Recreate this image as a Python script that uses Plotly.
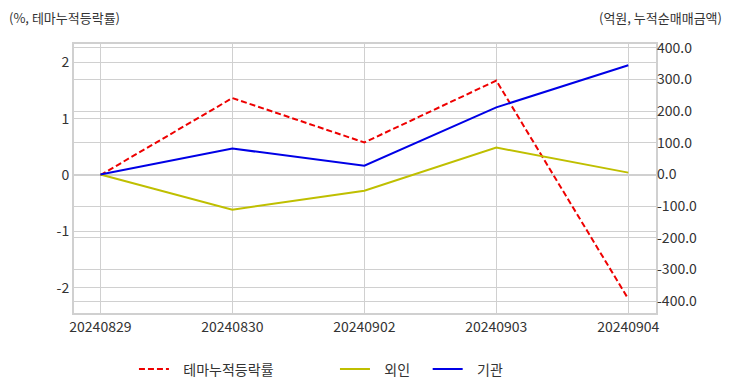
import plotly.graph_objects as go

dates = ["20240829", "20240830", "20240902", "20240903", "20240904"]
theme_rate = [0.0, 1.37, 0.58, 1.68, -2.20]
foreign = [0.0, -111.0, -51.0, 85.0, 6.0]
institution = [0.0, 82.0, 28.0, 212.0, 345.0]

left_ticks = [-2, -1, 0, 1, 2]
right_ticks = [-400, -300, -200, -100, 0, 100, 200, 300, 400]

FONT = "Noto Sans CJK KR"
NB = "\u00a0"

fig = go.Figure()
fig.add_trace(go.Scatter(x=dates, y=theme_rate, mode="lines", name=NB * 3 + "테마누적등락률" + NB * 18,
                         line=dict(color="#ee0000", width=2, dash="6px,3px"), yaxis="y"))
fig.add_trace(go.Scatter(x=dates, y=foreign, mode="lines", name=NB * 3 + "외인" + NB * 4,
                         line=dict(color="#bfbf00", width=2), yaxis="y2"))
fig.add_trace(go.Scatter(x=dates, y=institution, mode="lines", name=NB * 3 + "기관",
                         line=dict(color="#0000e6", width=2), yaxis="y2"))

grid = "#d0d0d0"
tfont = dict(size=14, color="#333333")
fig.update_layout(
    template="none",
    width=716, height=376,
    margin=dict(l=66, r=68, t=36, b=71, autoexpand=False),
    paper_bgcolor="white", plot_bgcolor="white",
    font=dict(family=FONT, size=13, color="#333333"),
    showlegend=True,
    legend=dict(orientation="h", x=0.103, xanchor="left", y=-0.21, yanchor="middle",
                font=dict(size=14, color="#333333"), bgcolor="rgba(0,0,0,0)"),
    xaxis=dict(type="category", range=[-0.2, 4.21], showgrid=True, gridcolor=grid, gridwidth=1,
               showline=True, linecolor=grid, linewidth=2, mirror=True, automargin=False,
               ticks="", tickfont=tfont, zeroline=False),
    yaxis=dict(range=[-2.45, 2.33], tickvals=left_ticks, ticktext=[str(v) for v in left_ticks],
               showgrid=True, gridcolor=grid, gridwidth=1, zeroline=False, automargin=False,
               showline=True, linecolor=grid, linewidth=2, mirror=True,
               ticks="", tickfont=tfont),
    yaxis2=dict(range=[-437, 412], tickvals=right_ticks, ticktext=[f"{v:.1f}" for v in right_ticks],
                overlaying="y", side="right", showgrid=True, gridcolor=grid, gridwidth=1,
                zeroline=False, automargin=False,
                showline=False, ticks="", tickfont=tfont),
    annotations=[
        dict(text="(%, 테마누적등락률)", xref="paper", yref="paper", x=-0.113, y=1.0,
             xanchor="left", yanchor="bottom", yshift=16, showarrow=False, borderpad=0,
             font=dict(size=13, color="#333333")),
        dict(text="(억원, 누적순매매금액)", xref="paper", yref="paper", x=1.0, y=1.0,
             xanchor="right", yanchor="bottom", xshift=67, yshift=16, showarrow=False, borderpad=0,
             font=dict(size=13, color="#333333")),
    ],
)

fig.write_html("out.html")
